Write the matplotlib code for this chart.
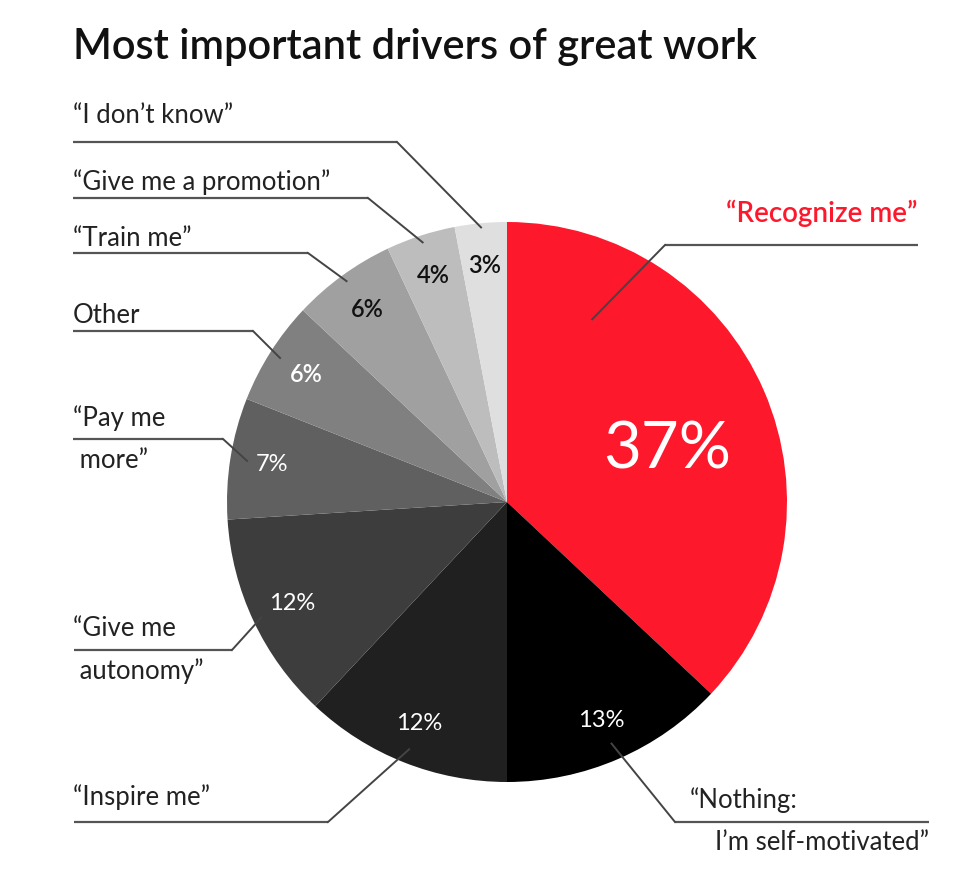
import numpy as np
import matplotlib
matplotlib.use("Agg")
import matplotlib.pyplot as plt

# datos del grafico (sentido horario desde arriba)
categorias = ["\u201cRecognize me\u201d", "\u201cNothing:\nI\u2019m self-motivated\u201d",
              "\u201cInspire me\u201d", "\u201cGive me\n autonomy\u201d",
              "\u201cPay me\n more\u201d", "Other", "\u201cTrain me\u201d",
              "\u201cGive me a promotion\u201d", "\u201cI don\u2019t know\u201d"]
valores = [37, 13, 12, 12, 7, 6, 6, 4, 3]
colores = ["#fe182c", "#000000", "#202020", "#3d3d3d", "#606060",
           "#808080", "#a0a0a0", "#bdbdbd", "#dfdfdf"]
color_pct = ["white", "white", "white", "white", "white", "white",
             "#111111", "#111111", "#111111"]

W, H = 979, 872
CX, CY, R = 507, 502, 280
FUENTE = "Lato"

# posiciones de etiquetas en pixeles (y desde arriba)
# (x texto, y texto, y subrayado, x inicio, x quiebre, x fin, radio punta, angulo punta)
layout = [
    (918, 213, 245, 665, 665, 918, 0.72, 65),
    (929, 800, 822, 675, 675, 929, 0.94, None),
    (73, 797, 822, 74, 328, 328, 0.95, None),
    (73, 628, 650, 74, 232, 232, 0.97, None),
    (73, 418, 439, 73, 223, 223, 0.94, None),
    (73, 315, 331, 73, 253, 253, 0.96, None),
    (73, 238, 253, 73, 308, 308, 0.975, None),
    (73, 182, 198, 73, 368, 368, 0.975, None),
    (73, 115, 142, 73, 397, 397, 0.985, None),
]


def py(y):
    # pixel desde arriba -> coordenada de datos
    return H - y


fig = plt.figure(figsize=(W / 100, H / 100), dpi=100, facecolor="white")
ax = fig.add_axes([0, 0, 1, 1])

wedges, _ = ax.pie(valores, colors=colores, startangle=90, counterclock=False,
                   center=(CX, py(CY)), radius=R,
                   wedgeprops=dict(linewidth=0))
ax.set_xlim(0, W)
ax.set_ylim(0, H)
ax.set_aspect("equal")
ax.axis("off")

# porcentajes
for i, w in enumerate(wedges):
    ang = np.deg2rad((w.theta1 + w.theta2) / 2)
    if i == 0:
        ang = np.deg2rad(18)
        r, size, weight = 0.6 * R, 47, "normal"
    else:
        r, size, weight = 0.85 * R, 17, "semibold" if i >= 5 else "normal"
    ax.text(CX + r * np.cos(ang), py(CY) + r * np.sin(ang), f"{valores[i]}%",
            ha="center", va="center", color=color_pct[i], fontsize=size,
            fontweight=weight, family=FUENTE)

# etiquetas con lineas
for i, w in enumerate(wedges):
    xt, yt, yl, x0, xk, x1, rf, angp = layout[i]
    if angp is None:
        angp = (w.theta1 + w.theta2) / 2
    a = np.deg2rad(angp)
    px_, py_ = CX + rf * R * np.cos(a), py(CY) + rf * R * np.sin(a)
    ax.plot([x0, x1], [py(yl), py(yl)], color="#555555", lw=1.6,
            solid_capstyle="butt")
    ax.plot([xk, px_], [py(yl), py_], color="#444444", lw=1.4)
    lineas = categorias[i].split("\n")
    ha = "right" if i == 1 or i == 0 else "left"
    col = "#fe182c" if i == 0 else "#222222"
    size = 20 if i == 0 else 18.5
    weight = "semibold" if i == 0 else "normal"
    # primera linea sobre el subrayado, segunda debajo
    ax.text(xt if i != 1 else 690, py(yt), lineas[0], ha="left" if i == 1 else ha,
            va="center", fontsize=size, fontweight=weight, color=col,
            family=FUENTE)
    if len(lineas) > 1:
        ax.text(xt, py(yl + 21), lineas[1], ha=ha, va="center",
                fontsize=size, color=col, family=FUENTE)

ax.text(73, py(47), "Most important drivers of great work", ha="left",
        va="center", fontsize=30, fontweight="semibold", color="#111111",
        family=FUENTE)

fig.savefig("out.png", dpi=100, facecolor="white")
